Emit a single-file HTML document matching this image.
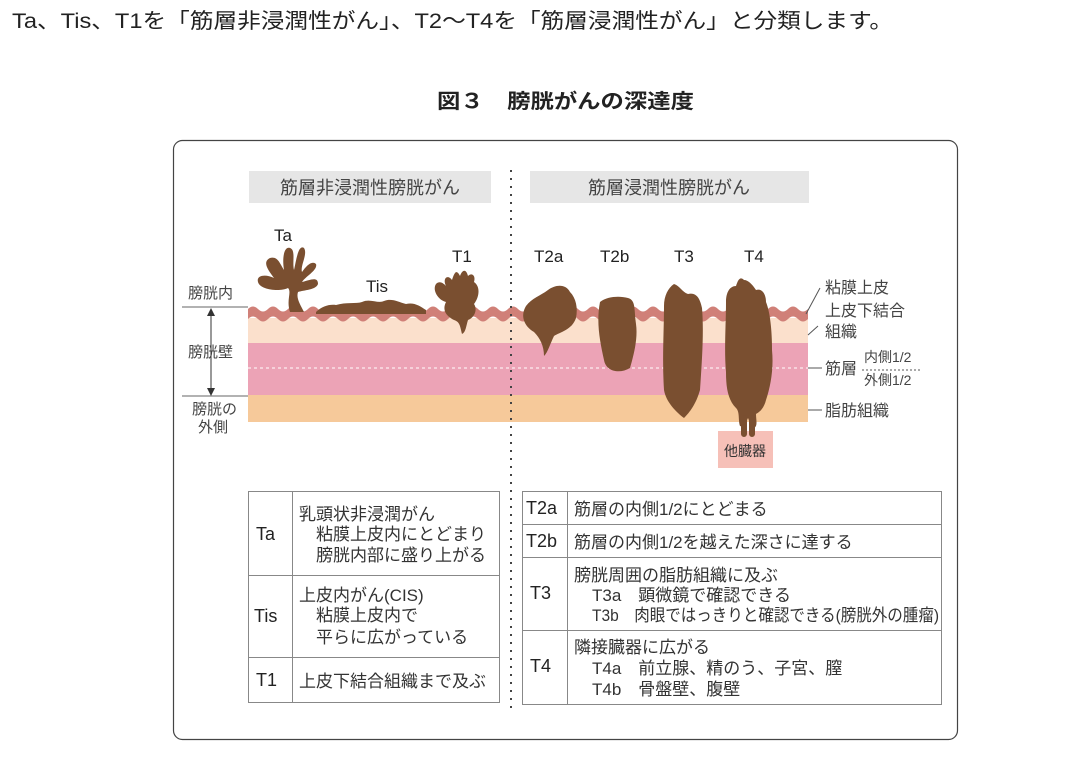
<!DOCTYPE html>
<html><head><meta charset="utf-8"><style>
html,body{margin:0;padding:0;background:#fff;}
body{width:1085px;height:756px;overflow:hidden;font-family:"Liberation Sans","Noto Sans CJK JP",sans-serif;}
svg text{font-family:"Liberation Sans","Noto Sans CJK JP",sans-serif;}
</style></head><body>
<svg width="1085" height="756" viewBox="0 0 1085 756" xmlns="http://www.w3.org/2000/svg">
<text x="12" y="28" font-size="21" fill="#222" textLength="881" lengthAdjust="spacingAndGlyphs">Ta、Tis、T1を「筋層非浸潤性がん」、T2〜T4を「筋層浸潤性がん」と分類します。</text>
<text x="437" y="108" font-size="20" font-weight="bold" fill="#222" textLength="257" lengthAdjust="spacingAndGlyphs">図３　膀胱がんの深達度</text>
<rect x="173.5" y="140.5" width="784" height="599" rx="9" fill="#fff" stroke="#444" stroke-width="1.2"/>
<rect x="249" y="171" width="242" height="32" fill="#e6e6e6"/>
<text x="370" y="194" font-size="18" text-anchor="middle" fill="#444">筋層非浸潤性膀胱がん</text>
<rect x="530" y="171" width="279" height="32" fill="#e6e6e6"/>
<text x="669" y="194" font-size="18" text-anchor="middle" fill="#444">筋層浸潤性膀胱がん</text>
<rect x="248" y="318" width="560" height="26" fill="#fbe0cc"/>
<rect x="248" y="343" width="560" height="52" fill="#eca3b6"/>
<rect x="248" y="395" width="560" height="27" fill="#f6c99a"/>
<line x1="248" y1="368" x2="808" y2="368" stroke="#fff" stroke-width="1" stroke-dasharray="3,3"/>
<path d="M248,309 q5,-5 10,0 t10,0 t10,0 t10,0 t10,0 t10,0 t10,0 t10,0 t10,0 t10,0 t10,0 t10,0 t10,0 t10,0 t10,0 t10,0 t10,0 t10,0 t10,0 t10,0 t10,0 t10,0 t10,0 t10,0 t10,0 t10,0 t10,0 t10,0 t10,0 t10,0 t10,0 t10,0 t10,0 t10,0 t10,0 t10,0 t10,0 t10,0 t10,0 t10,0 t10,0 t10,0 t10,0 t10,0 t10,0 t10,0 t10,0 t10,0 t10,0 t10,0 t10,0 t10,0 t10,0 t10,0 t10,0 t10,0 L808,319 q-5,5 -10,0 t-10,0 t-10,0 t-10,0 t-10,0 t-10,0 t-10,0 t-10,0 t-10,0 t-10,0 t-10,0 t-10,0 t-10,0 t-10,0 t-10,0 t-10,0 t-10,0 t-10,0 t-10,0 t-10,0 t-10,0 t-10,0 t-10,0 t-10,0 t-10,0 t-10,0 t-10,0 t-10,0 t-10,0 t-10,0 t-10,0 t-10,0 t-10,0 t-10,0 t-10,0 t-10,0 t-10,0 t-10,0 t-10,0 t-10,0 t-10,0 t-10,0 t-10,0 t-10,0 t-10,0 t-10,0 t-10,0 t-10,0 t-10,0 t-10,0 t-10,0 t-10,0 t-10,0 t-10,0 t-10,0 t-10,0 Z" fill="#d08078"/>
<line x1="182" y1="307" x2="248" y2="307" stroke="#666"/>
<line x1="182" y1="396" x2="248" y2="396" stroke="#666"/>
<line x1="211" y1="312" x2="211" y2="392" stroke="#333"/>
<path d="M207,316 L211,308 L215,316Z M207,388 L211,396 L215,388Z" fill="#333"/>
<g font-size="15" fill="#444">
<text x="188" y="298">膀胱内</text>
<text x="188" y="357">膀胱壁</text>
<text x="192" y="414">膀胱の</text>
<text x="198" y="432">外側</text>
</g>
<line x1="511" y1="170" x2="511" y2="710" stroke="#444" stroke-width="2" stroke-dasharray="2,6"/>
<g font-size="17" fill="#222">
<text x="274" y="241">Ta</text>
<text x="366" y="292">Tis</text>
<text x="452" y="262">T1</text>
<text x="534" y="262">T2a</text>
<text x="600" y="262">T2b</text>
<text x="674" y="262">T3</text>
<text x="744" y="262">T4</text>
</g>
<g fill="#7a4f30">
<path d="M290,312 C286,300 292,292 288,288 C280,292 260,290 258,282 C256,275 266,274 274,278 C268,270 262,262 270,258 C278,256 280,264 284,270 C282,258 284,246 290,248 C296,250 292,262 294,270 C296,262 298,244 304,248 C308,254 300,266 302,272 C306,266 312,260 316,264 C318,270 306,276 302,282 C310,280 318,276 318,284 C316,290 304,290 298,292 C296,298 300,304 304,312 Z"/>
<path d="M316,312 C322,306 330,304 336,305 C346,302 356,304 362,302 C370,298 378,304 384,301 C392,298 398,302 406,304 C414,302 420,306 426,310 L426,314 L316,314Z"/>
<path d="M454,320 C446,316 442,310 446,302 C438,300 432,290 436,284 C440,280 444,284 446,286 C442,278 448,274 452,280 C454,274 456,268 460,276 C462,270 466,268 468,276 C472,272 476,276 474,282 C480,286 480,296 474,304 C478,310 474,318 468,320 C466,326 466,332 462,334 C460,326 460,322 454,320Z"/>
<path d="M544,356 C544,346 540,338 534,332 C524,326 520,316 526,306 C532,298 540,296 548,290 C556,284 566,284 570,292 C576,298 578,308 576,318 C572,330 560,332 554,336 C550,344 548,352 544,356Z"/>
<path d="M600,302 C608,296 620,296 628,298 C636,300 634,310 636,324 C638,338 634,354 630,368 C620,374 606,372 604,360 C600,342 596,322 600,302Z"/>
<path d="M664,306 C664,296 668,288 674,284 C680,286 682,292 688,294 C696,292 700,298 702,308 C704,332 702,360 700,390 C696,404 690,412 684,418 C676,412 666,402 664,390 C662,360 664,330 664,306Z"/>
<path d="M726,302 C726,292 730,286 736,286 C738,280 740,276 744,280 C748,280 752,284 756,290 C762,288 766,294 766,302 C770,312 772,330 772,350 C774,370 770,388 766,400 C764,408 760,412 756,414 C756,420 758,426 754,428 C750,428 750,422 748,418 C746,422 744,428 740,426 C738,420 740,412 736,408 C728,400 726,388 726,372 C724,350 726,324 726,302Z"/>
</g>
<rect x="718" y="431" width="55" height="37" fill="#f6c0b8"/>
<text x="745" y="456" font-size="14" text-anchor="middle" fill="#333">他臓器</text>
<path d="M744,418 L744,434 M752,418 L752,434" stroke="#7a4f30" stroke-width="6" stroke-linecap="round"/>
<g stroke="#555" fill="none">
<path d="M806,314 L820,288"/>
<path d="M808,335 L818,326"/>
<line x1="808" y1="368" x2="822" y2="368"/>
<line x1="808" y1="410" x2="822" y2="410"/>
<line x1="862" y1="370" x2="920" y2="370" stroke-dasharray="2,2"/>
</g>
<g font-size="16" fill="#444">
<text x="825" y="293">粘膜上皮</text>
<text x="825" y="316">上皮下結合</text>
<text x="825" y="337">組織</text>
<text x="825" y="374">筋層</text>
<text x="825" y="416">脂肪組織</text>
</g>
<text x="864" y="362" font-size="14" fill="#444">内側1/2</text>
<text x="864" y="385" font-size="14" fill="#444">外側1/2</text>
<g stroke="#888" fill="none" stroke-width="1">
<rect x="248.5" y="491.5" width="251" height="211"/>
<line x1="292.5" y1="491" x2="292.5" y2="703"/>
<line x1="248" y1="575.5" x2="500" y2="575.5"/>
<line x1="248" y1="657.5" x2="500" y2="657.5"/>
<rect x="522.5" y="491.5" width="419" height="213"/>
<line x1="567.5" y1="491" x2="567.5" y2="705"/>
<line x1="522" y1="524.5" x2="942" y2="524.5"/>
<line x1="522" y1="557.5" x2="942" y2="557.5"/>
<line x1="522" y1="630.5" x2="942" y2="630.5"/>
</g>
<g font-size="18" fill="#222">
<text x="256" y="540">Ta</text>
<text x="254" y="622">Tis</text>
<text x="256" y="686">T1</text>
<text x="526" y="514">T2a</text>
<text x="526" y="547">T2b</text>
<text x="530" y="599">T3</text>
<text x="530" y="672">T4</text>
</g>
<g font-size="17" fill="#333">
<text x="299" y="520">乳頭状非浸潤がん</text>
<text x="316" y="540">粘膜上皮内にとどまり</text>
<text x="316" y="561">膀胱内部に盛り上がる</text>
<text x="299" y="601">上皮内がん(CIS)</text>
<text x="316" y="621">粘膜上皮内で</text>
<text x="316" y="643">平らに広がっている</text>
<text x="299" y="687">上皮下結合組織まで及ぶ</text>
<text x="574" y="515">筋層の内側1/2にとどまる</text>
<text x="574" y="548">筋層の内側1/2を越えた深さに達する</text>
<text x="574" y="581">膀胱周囲の脂肪組織に及ぶ</text>
<text x="592" y="601">T3a　顕微鏡で確認できる</text>
<text x="592" y="621" textLength="347" lengthAdjust="spacingAndGlyphs">T3b　肉眼ではっきりと確認できる(膀胱外の腫瘤)</text>
<text x="574" y="653">隣接臓器に広がる</text>
<text x="592" y="674">T4a　前立腺、精のう、子宮、膣</text>
<text x="592" y="695">T4b　骨盤壁、腹壁</text>
</g>
</svg>
</body></html>
